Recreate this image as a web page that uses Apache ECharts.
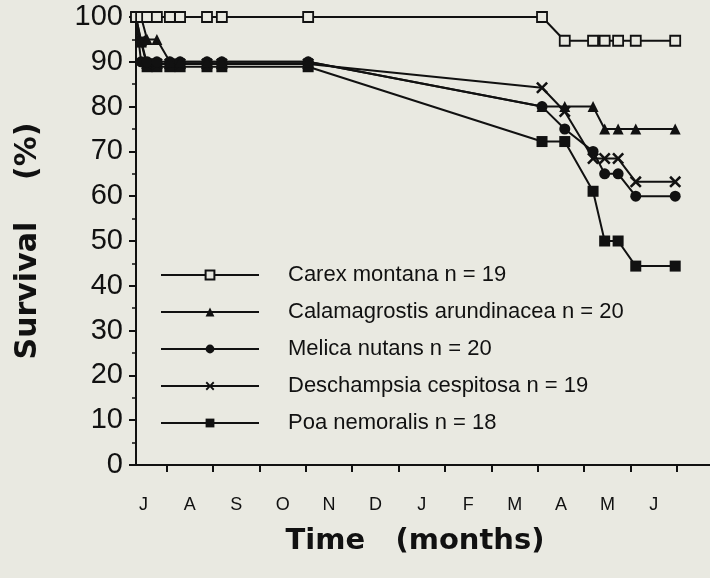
<!DOCTYPE html>
<html>
<head>
<meta charset="utf-8">
<script src="https://cdn.jsdelivr.net/npm/echarts@6/dist/echarts.min.js"></script>
<style>
html,body{margin:0;padding:0;background:#e9e9e1;}
#c{width:710px;height:578px;}
</style>
</head>
<body>
<div id="c"></div>
<script>
// ---- data ----
const monthLabels = ['J','A','S','O','N','D','J','F','M','A','M','J'];
// sampling dates in months since 1 July
const dates = [0.34, 0.45, 0.58, 0.79, 1.07, 1.29, 1.87, 2.19, 4.05, 9.09, 9.58, 10.19, 10.44, 10.73, 11.11, 11.96];
const carex         = [100, 100, 100, 100, 100, 100, 100, 100, 100, 100, 94.7, 94.7, 94.7, 94.7, 94.7, 94.7];
const calamagrostis = [100, 100, 95, 95, 90, 90, 90, 90, 90, 80, 80, 80, 75, 75, 75, 75];
const melica        = [100, 90, 90, 90, 90, 90, 90, 90, 90, 80, 75, 70, 65, 65, 60, 60];
const deschampsia   = [100, 94.7, 89.5, 89.5, 89.5, 89.5, 89.5, 89.5, 89.5, 84.2, 78.9, 68.4, 68.4, 68.4, 63.2, 63.2];
const poa           = [100, 94.4, 88.9, 88.9, 88.9, 88.9, 88.9, 88.9, 88.9, 72.2, 72.2, 61.1, 50, 50, 44.4, 44.4];
const seriesNames = ['Carex montana n = 19','Calamagrostis arundinacea n = 20','Melica nutans n = 20','Deschampsia cespitosa n = 19','Poa nemoralis n = 18'];
const monthTicks = [1,2,3,4,5,6,7,8,9,10,11,12];
const labelPos = [0.5,1.5,2.5,3.5,4.5,5.5,6.5,7.5,8.5,9.5,10.5,11.5];

const BG = '#e9e9e1';
const INK = '#111111';
const crossPath = 'path://M0,1.5L1.5,0L5,3.5L8.5,0L10,1.5L6.5,5L10,8.5L8.5,10L5,6.5L1.5,10L0,8.5L3.5,5Z';

function pairs(vals){ return dates.map((d,i)=>[d, vals[i]]); }

function mk(name, vals, symbol, size, fill){
  return {
    name: name, type: 'line', data: pairs(vals),
    symbol: symbol, symbolSize: size,
    lineStyle: {color: INK, width: 2},
    itemStyle: {color: fill, borderColor: INK, borderWidth: fill === BG ? 1.8 : 0},
    emphasis: {disabled: true},
    animation: false
  };
}

const chart = echarts.init(document.getElementById('c'), null, {renderer: 'canvas'});
chart.setOption({
  backgroundColor: BG,
  animation: false,
  grid: {left: 136, right: 0, top: 17, bottom: 113, containLabel: false},
  legend: {
    orient: 'vertical', left: 160, top: 264, padding: 0,
    itemWidth: 98, itemHeight: 11, itemGap: 15,
    textStyle: {fontFamily: 'Liberation Sans', fontSize: 22, color: INK, padding: [0,0,0,24]},
    data: seriesNames,
    selectedMode: false
  },
  xAxis: {
    type: 'value', min: 0.34, max: 12.71,
    axisLine: {show: true, lineStyle: {color: INK, width: 2}},
    axisTick: {show: true, inside: false, length: 7, lineStyle: {color: INK, width: 2}, customValues: monthTicks},
    axisLabel: {
      show: true, customValues: labelPos, margin: 31,
      fontFamily: 'Liberation Sans', fontSize: 18, color: INK,
      formatter: v => monthLabels[Math.floor(v)]
    },
    splitLine: {show: false},
    name: 'Time   (months)', nameLocation: 'middle', nameGap: 62,
    nameTextStyle: {fontFamily: 'DejaVu Sans', fontSize: 29, fontWeight: 'bold', color: INK, padding: [0, 16, 0, 0]}
  },
  yAxis: {
    type: 'value', min: 0, max: 100, interval: 10,
    axisLine: {show: true, lineStyle: {color: INK, width: 2}},
    axisTick: {show: true, length: 7, lineStyle: {color: INK, width: 2}},
    minorTick: {show: true, splitNumber: 2, length: 4, lineStyle: {color: INK, width: 1.5}},
    axisLabel: {margin: 13, fontFamily: 'Liberation Sans', fontSize: 29, color: INK},
    splitLine: {show: false},
    name: 'Survival    (%)', nameLocation: 'middle', nameGap: 93, nameRotate: 90,
    nameTextStyle: {fontFamily: 'DejaVu Sans', fontSize: 30, fontWeight: 'bold', color: INK}
  },
  series: [
    mk(seriesNames[4], poa, 'rect', 11, INK),
    mk(seriesNames[3], deschampsia, crossPath, 12, INK),
    mk(seriesNames[2], melica, 'circle', 11, INK),
    mk(seriesNames[1], calamagrostis, 'triangle', 11, INK),
    mk(seriesNames[0], carex, 'rect', 10, BG)
  ]
});
</script>
</body>
</html>
